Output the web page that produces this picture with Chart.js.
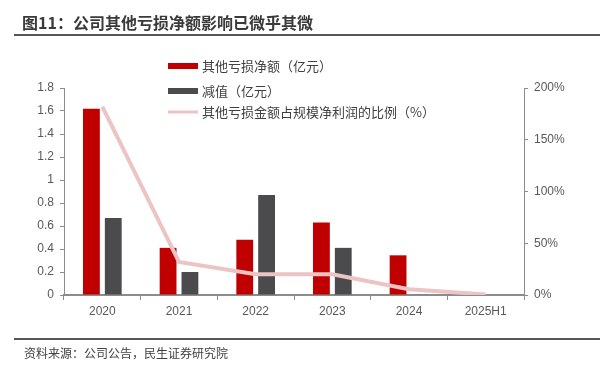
<!DOCTYPE html>
<html>
<head>
<meta charset="utf-8">
<script src="https://cdn.jsdelivr.net/npm/chart.js@4.4.0/dist/chart.umd.min.js"></script>
<style>
    body { margin: 0; background: #fff; font-family: "Liberation Sans", "Noto Sans CJK SC", sans-serif; }
    #wrap { position: relative; width: 613px; height: 368px; overflow: hidden; }
    #title { position: absolute; left: 14px; top: 12px; width: 586px; height: 24px; border-bottom: 2px solid #555;
        font: bold 16px "Noto Sans CJK SC", sans-serif; color: #3a3a3a; box-sizing: border-box; padding-left: 8px; line-height: 21px; }
    #source { position: absolute; left: 14px; top: 338px; width: 586px; border-top: 2px solid #555;
        font: 12px "Noto Sans CJK SC", sans-serif; color: #404040; padding: 4px 0 0 10px; box-sizing: border-box; }
    #c { position: absolute; left: 0; top: 0; }
</style>
</head>
<body>
<div id="wrap">
    <canvas id="c" width="613" height="368"></canvas>
    <div id="title">图11：公司其他亏损净额影响已微乎其微</div>
    <div id="source">资料来源：公司公告，民生证券研究院</div>
</div>
<script>
// Дані графіка
const categories = ['2020', '2021', '2022', '2023', '2024', '2025H1'];
const netLoss = [1.62, 0.41, 0.48, 0.63, 0.345, 0];        // 其他亏损净额（亿元）
const impairment = [0.67, 0.20, 0.87, 0.41, 0.005, 0];    // 减值（亿元）
const lossRatio = [182, 32, 20, 20, 5.5, 0.5];            // 占规模净利润的比例（%）
const leftTicks = [0, 0.2, 0.4, 0.6, 0.8, 1, 1.2, 1.4, 1.6, 1.8];
const rightTicks = [0, 50, 100, 150, 200];

const tickFont = { family: '"Liberation Sans", "Noto Sans CJK SC", sans-serif', size: 12 };
const tickColor = '#595959';
const axisColor = '#8c8c8c';

// Легенда у стовпчик, малюється на канві
const columnLegend = {
    id: 'columnLegend',
    afterDraw(chart) {
        const ctx = chart.ctx;
        const rows = [66, 91, 112];
        ctx.save();
        ctx.font = '13px "Noto Sans CJK SC", sans-serif';
        ctx.textBaseline = 'middle';
        chart.data.datasets.forEach((ds, i) => {
            const y = rows[i];
            if (ds.type === 'line') {
                ctx.fillStyle = ds.borderColor;
                ctx.fillRect(168, y - 1.5, 30, 3);
            } else {
                ctx.fillStyle = ds.backgroundColor;
                ctx.fillRect(168, y - 3, 30, 6);
            }
            ctx.fillStyle = '#404040';
            ctx.fillText(ds.label, 202, y);
        });
        ctx.restore();
    }
};

document.addEventListener('DOMContentLoaded', () => {
    const ctx = document.getElementById('c').getContext('2d');
    new Chart(ctx, {
        data: {
            labels: categories,
            datasets: [
                {
                    type: 'bar',
                    label: '其他亏损净额（亿元）',
                    data: netLoss,
                    backgroundColor: '#c00000',
                    yAxisID: 'y',
                    categoryPercentage: 0.57,
                    barPercentage: 0.77,
                    order: 2
                },
                {
                    type: 'bar',
                    label: '减值（亿元）',
                    data: impairment,
                    backgroundColor: '#4b4b4d',
                    yAxisID: 'y',
                    categoryPercentage: 0.57,
                    barPercentage: 0.77,
                    order: 2
                },
                {
                    type: 'line',
                    label: '其他亏损金额占规模净利润的比例（%）',
                    data: lossRatio,
                    borderColor: '#ecc4c4',
                    borderWidth: 4,
                    pointRadius: 0,
                    tension: 0,
                    yAxisID: 'y1',
                    order: 1
                }
            ]
        },
        options: {
            responsive: false,
            animation: false,
            layout: { padding: { top: 88, bottom: 48, left: 0, right: 0 } },
            plugins: {
                legend: { display: false },
                tooltip: { enabled: false }
            },
            scales: {
                x: {
                    grid: { display: true, drawOnChartArea: false, drawTicks: true, tickLength: 5, color: axisColor, offset: true },
                    border: { color: axisColor, width: 2 },
                    ticks: { font: tickFont, color: tickColor, padding: 4 },
                    afterFit(scale) { scale.height = 25; }
                },
                y: {
                    position: 'left',
                    min: 0,
                    max: 1.8,
                    afterBuildTicks(scale) { scale.ticks = leftTicks.map(v => ({ value: v })); },
                    grid: { drawOnChartArea: false, drawTicks: true, tickLength: 4, color: axisColor },
                    border: { color: axisColor, width: 1 },
                    ticks: { font: tickFont, color: tickColor, padding: 6, callback: v => String(+v.toFixed(1)) },
                    afterFit(scale) { scale.width = 64; }
                },
                y1: {
                    position: 'right',
                    min: 0,
                    max: 200,
                    afterBuildTicks(scale) { scale.ticks = rightTicks.map(v => ({ value: v })); },
                    grid: { drawOnChartArea: false, drawTicks: true, tickLength: 4, color: axisColor },
                    border: { color: axisColor, width: 1 },
                    ticks: { font: tickFont, color: tickColor, padding: 6, callback: v => v + '%' },
                    afterFit(scale) { scale.width = 89; }
                }
            }
        },
        plugins: [columnLegend]
    });
});
</script>
</body>
</html>
